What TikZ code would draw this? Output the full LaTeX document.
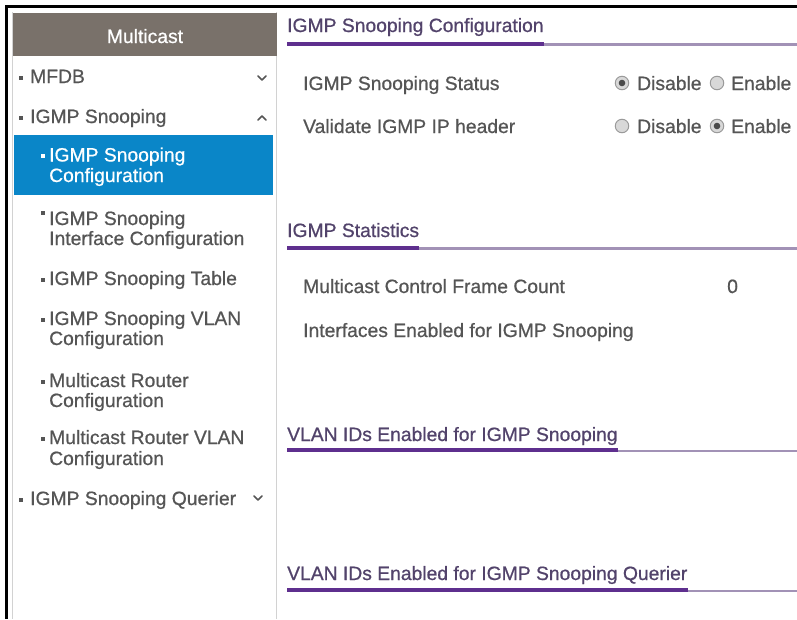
\documentclass[tikz,border=0pt]{standalone}
\usepackage{fontspec}
\setmainfont{Liberation Sans}
\newfontfamily\uifont[FakeBold=0.7]{Liberation Sans}
\definecolor{txtgray}{HTML}{555555}
\definecolor{hdrtxt}{HTML}{52436B}
\definecolor{ulthickc}{HTML}{5E2F8E}
\definecolor{ulthinc}{HTML}{A292B6}
\definecolor{navbrown}{HTML}{79716A}
\definecolor{selblue}{HTML}{0A86C8}
\definecolor{edgegray}{HTML}{D2D2D2}
\definecolor{radiofill}{HTML}{D8D8D8}
\definecolor{radioedge}{HTML}{9A9A9A}
\definecolor{radiodot}{HTML}{4A4A4A}
\begin{document}
\begin{tikzpicture}[x=1pt,y=-1pt,
  uitext/.style={font=\uifont\fontsize{19.3}{20}\selectfont, text=txtgray, anchor=base west, inner sep=0pt},
  seltext/.style={uitext, text=white},
  hdrtext/.style={uitext, text=hdrtxt},
  bulletsq/.style={fill=txtgray},
  chev/.style={draw=txtgray, line width=1.6pt, line cap=round, line join=round},
  ulthick/.style={draw=ulthickc, line width=4pt},
  ulthin/.style={draw=ulthinc, line width=2.2pt},
  radio/.style={circle, draw=radioedge, fill=radiofill, line width=1pt, minimum size=13.5pt, inner sep=0pt},
]
\useasboundingbox (0,0) rectangle (797,619);
\fill[white] (0,0) rectangle (797,619);

% outer black frame (top and left)
\draw[line width=3pt] (5,6.5) -- (797,6.5);
\draw[line width=3pt] (6.5,5) -- (6.5,619);

% side navigation panel
\draw[edgegray, line width=1.5pt] (12.5,12) -- (12.5,619);
\draw[edgegray, line width=1.5pt] (276.5,12) -- (276.5,619);
\fill[navbrown] (13,13) rectangle (277,56);
\node[uitext, anchor=base, text=white] (navtitle) at (145,43) {Multicast};

% highlighted entry
\fill[selblue] (13.5,135) rectangle (273,195);

% top-level entries
\fill[bulletsq] (18.5,75.5) rectangle (22.5,79.5);
\node[uitext] (mfdb) at (30,83) {MFDB};
\draw[chev] (258,76) -- (262,80) -- (266,76);

\fill[bulletsq] (18.5,115.5) rectangle (22.5,119.5);
\node[uitext] (snoop) at (30,123) {IGMP Snooping};
\draw[chev] (258,120) -- (262,116) -- (266,120);

% sub entries
\fill[white] (41,153.5) rectangle (45,157.5);
\node[seltext] (cfg1) at (49,161.5) {IGMP Snooping};
\node[seltext] (cfg2) at (49,182) {Configuration};

\fill[bulletsq] (41,211) rectangle (45,215);
\node[uitext] (ifc1) at (49,225) {IGMP Snooping};
\node[uitext] (ifc2) at (49,245) {Interface Configuration};

\fill[bulletsq] (41,277.5) rectangle (45,281.5);
\node[uitext] (tbl) at (49,285) {IGMP Snooping Table};

\fill[bulletsq] (41,317.5) rectangle (45,321.5);
\node[uitext] (vlan1) at (49,325) {IGMP Snooping VLAN};
\node[uitext] (vlan2) at (49,345) {Configuration};

\fill[bulletsq] (41,379.5) rectangle (45,383.5);
\node[uitext] (mr1) at (49,387) {Multicast Router};
\node[uitext] (mr2) at (49,407) {Configuration};

\fill[bulletsq] (41,436.5) rectangle (45,440.5);
\node[uitext] (mrv1) at (49,444) {Multicast Router VLAN};
\node[uitext] (mrv2) at (49,465) {Configuration};

\fill[bulletsq] (18.5,497.5) rectangle (22.5,501.5);
\node[uitext] (qry) at (30,505) {IGMP Snooping Querier};
\draw[chev] (254,496) -- (258,500) -- (262,496);

% section: IGMP Snooping Configuration
\node[hdrtext] (h1) at (287,32) {IGMP Snooping Configuration};
\draw[ulthick] (287,43.5) -- (h1.east |- 0,43.5);
\draw[ulthin] (h1.east |- 0,44.5) -- (797,44.5);

\node[uitext] (status) at (303,90) {IGMP Snooping Status};
\node[radio] (r1d) at (622,83) {};
\fill[radiodot] (r1d.center) circle (3.3);
\node[uitext] (r1dt) at (637,90) {Disable};
\node[radio] (r1e) at (717,83) {};
\node[uitext] (r1et) at (731,90) {Enable};

\node[uitext] (valid) at (303,133) {Validate IGMP IP header};
\node[radio] (r2d) at (622,126) {};
\node[uitext] (r2dt) at (637,133) {Disable};
\node[radio] (r2e) at (717,126) {};
\fill[radiodot] (r2e.center) circle (3.3);
\node[uitext] (r2et) at (731,133) {Enable};

% section: IGMP Statistics
\node[hdrtext] (h2) at (287,237) {IGMP Statistics};
\draw[ulthick] (287,247.5) -- (h2.east |- 0,247.5);
\draw[ulthin] (h2.east |- 0,248.5) -- (797,248.5);

\node[uitext] (mcf) at (303,293) {Multicast Control Frame Count};
\node[uitext] (mcfv) at (727,293) {0};
\node[uitext] (ifen) at (303,337) {Interfaces Enabled for IGMP Snooping};

% section: VLAN IDs Enabled for IGMP Snooping
\node[hdrtext] (h3) at (287,441) {VLAN IDs Enabled for IGMP Snooping};
\draw[ulthick] (287,450) -- (h3.east |- 0,450);
\draw[ulthin] (h3.east |- 0,451) -- (797,451);

% section: VLAN IDs Enabled for IGMP Snooping Querier
\node[hdrtext] (h4) at (287,580) {VLAN IDs Enabled for IGMP Snooping Querier};
\draw[ulthick] (287,590) -- (h4.east |- 0,590);
\draw[ulthin] (h4.east |- 0,591) -- (797,591);
\end{tikzpicture}
\end{document}
